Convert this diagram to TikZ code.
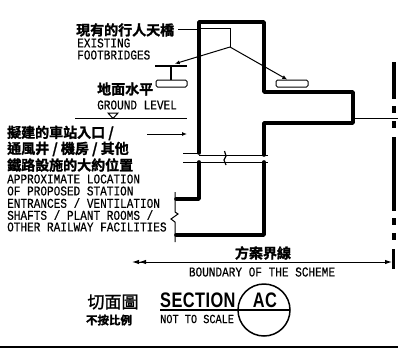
\documentclass[tikz,border=0pt]{standalone}
\usepackage{fontspec}
\usetikzlibrary{arrows.meta}
\newfontfamily\cjkfont[FakeBold=1.5]{Noto Sans CJK TC Bold}
\newfontfamily\cjkthin[FakeBold=1.5]{Noto Sans CJK TC}
\newfontfamily\cadfont[FakeStretch=0.82,FakeBold=0.3]{Liberation Mono}
\newfontfamily\cadbig[FakeStretch=0.78,LetterSpace=2]{Liberation Sans Bold}
\tikzset{
  zh/.style={anchor=west,inner sep=0pt,font=\cjkfont\fontsize{14}{14}\selectfont},
  en/.style={anchor=west,inner sep=0pt,font=\cadfont\fontsize{13.5}{13.5}\selectfont},
  wall/.style={line width=3.6pt,line join=round,line cap=round},
  thin line/.style={line width=1pt},
  pointer/.style={line width=1pt,-{Latex[length=5pt,width=4pt]}},
}
\begin{document}
\begin{tikzpicture}[x=1pt,y=-1pt]
\useasboundingbox (0,0) rectangle (398,348);
% labels
\node[zh] (bridgezh) at (76,30) {現有的行人天橋};
\node[en] (bridgeen) at (77,43) {EXISTING};
\node[en] at (77,55) {FOOTBRIDGES};
\node[zh] at (97,89) {地面水平};
\node[en] at (97,105) {GROUND LEVEL};
\node[zh] (entrya) at (7,133) {擬建的車站入口 /};
\node[zh] at (7,149) {通風井 / 機房 / 其他};
\node[zh] at (7,165) {鐵路設施的大約位置};
\node[en] at (7,179) {APPROXIMATE LOCATION};
\node[en] at (7,191) {OF PROPOSED STATION};
\node[en] at (7,203) {ENTRANCES / VENTILATION};
\node[en] at (7,215) {SHAFTS / PLANT ROOMS /};
\node[en] at (7,227) {OTHER RAILWAY FACILITIES};
% walls
\draw[wall] (199,153) -- (199,22) -- (264,22) -- (264,92) -- (353,92) -- (353,123) -- (264,123) -- (264,155);
\draw[wall] (264,162) -- (264,235) -- (176,235);
\draw[wall] (199,162) -- (199,199) -- (176,199);
\draw[thin line] (183,153) -- (199,153);
\draw[thin line] (183,162) -- (199,162);
\draw[thin line] (199,155) -- (268,155);
\draw[thin line] (199,162) -- (268,162);
\draw[line width=1.2pt] (224.5,151) -- (226,156) -- (224,160) -- (226,165);
\draw[thin line] (175,192) -- (175,212) -- (178,214) -- (171,219) -- (175,222) -- (175,242);
% footbridges
\draw[line width=2.4pt] (155,66) -- (187,66);
\draw[line width=1.8pt] (171,66) -- (171,80);
\draw[thin line,rounded corners=1.5pt] (156,80) -- (187,80) -- (187,87) -- (156,87) -- cycle;
\node[inner sep=0pt] (bridgel) at (174,64) {};
\draw[thin line,rounded corners=1.5pt] (276,80) -- (308,80) -- (308,87) -- (276,87) -- cycle;
\node[inner sep=0pt] (bridger) at (288,80) {};
\coordinate (fork) at (230,47);
\draw[thin line] (178,29) -- (199,29);
\draw[thin line] (199,28) -- (230,28) -- (fork);
\draw[pointer] (fork) -- (bridgel);
\draw[pointer] (fork) -- (bridger);
% ground level
\draw[thin line] (75,118.5) -- (187,118.5);
\draw[thin line] (108,113) -- (118,113) -- (113,118.5) -- cycle;
\coordinate (entryend) at (187,134);
\draw[pointer] (147,134) -- (entryend);
% centre line
\draw[thin line] (353,118.5) -- (398,118.5);
\draw[line width=3.4pt,dash pattern=on 74pt off 7pt on 7pt off 8pt on 7pt off 9pt,dash phase=37pt] (394,62) -- (394,241);
% boundary
\node[zh,anchor=center] at (263,253) {方案界線};
\node[en,anchor=center] at (262,272) {BOUNDARY OF THE SCHEME};
\draw[line width=3pt] (393,249) -- (393,269);
\coordinate (schemea) at (132,262);
\coordinate (schemeb) at (392,262);
\draw[line width=1pt,{Latex[length=7pt,width=4.5pt]Latex[length=7pt,width=4.5pt]}-{Latex[length=7pt,width=4.5pt]}] (schemea) -- (schemeb);
% title
\node[anchor=center,inner sep=0pt,font=\cjkthin\fontsize{17}{17}\selectfont] at (113,302) {切面圖};
\node[anchor=center,inner sep=0pt,font=\cjkfont\fontsize{11.5}{11.5}\selectfont] at (109,320) {不按比例};
\node[anchor=west,inner sep=0pt,font=\cadbig\fontsize{21}{21}\selectfont] at (160,300) {SECTION};
\node[anchor=west,inner sep=0pt,font=\cadfont\fontsize{12.5}{12.5}\selectfont] at (160,319) {NOT TO SCALE};
\node[anchor=center,inner sep=0pt,font=\cadbig\fontsize{21}{21}\selectfont] at (265,300) {AC};
\draw[line width=1.5pt] (264,310) circle (26pt);
\draw[line width=1.8pt] (160,310) -- (290,310);
\fill (0,345.5) rectangle (398,348);
\end{tikzpicture}
\end{document}
